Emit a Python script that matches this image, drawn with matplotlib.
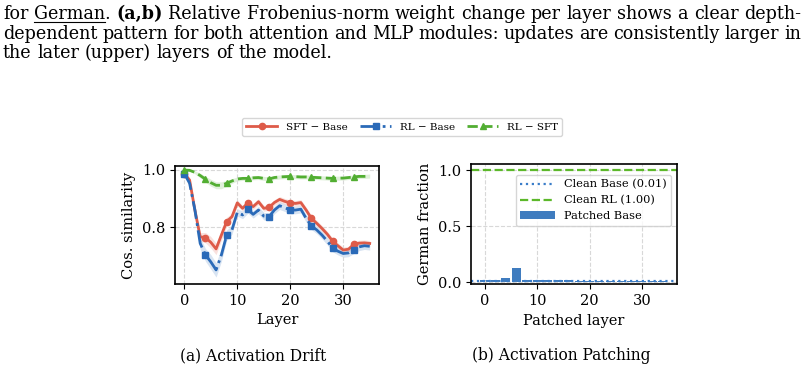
import numpy as np
import matplotlib
matplotlib.use("Agg")
import matplotlib.pyplot as plt

# ---- data ----
layers = np.arange(36)
sft_base = [0.987, 0.964, 0.860, 0.767, 0.764, 0.748, 0.725, 0.773, 0.820, 0.837,
            0.885, 0.866, 0.885, 0.872, 0.889, 0.866, 0.869, 0.886, 0.897, 0.890,
            0.885, 0.883, 0.886, 0.860, 0.831, 0.814, 0.796, 0.776, 0.752, 0.736,
            0.721, 0.724, 0.741, 0.745, 0.746, 0.744]
rl_base = [0.987, 0.953, 0.860, 0.744, 0.704, 0.680, 0.652, 0.704, 0.773, 0.791,
           0.852, 0.843, 0.862, 0.845, 0.860, 0.839, 0.837, 0.860, 0.875, 0.868,
           0.860, 0.860, 0.863, 0.831, 0.805, 0.791, 0.773, 0.752, 0.728, 0.717,
           0.709, 0.711, 0.722, 0.732, 0.736, 0.734]
rl_sft = [0.999, 0.998, 0.991, 0.980, 0.967, 0.955, 0.946, 0.946, 0.953, 0.961,
          0.968, 0.970, 0.970, 0.972, 0.973, 0.970, 0.968, 0.973, 0.975, 0.976,
          0.977, 0.976, 0.975, 0.975, 0.974, 0.973, 0.972, 0.971, 0.970, 0.971,
          0.971, 0.973, 0.975, 0.977, 0.977, 0.978]
sft_base_sd = [0.005, 0.008, 0.012, 0.015, 0.018, 0.020, 0.020, 0.018, 0.015, 0.012,
               0.010, 0.010, 0.010, 0.010, 0.010, 0.010, 0.010, 0.010, 0.010, 0.010,
               0.010, 0.010, 0.010, 0.010, 0.010, 0.010, 0.010, 0.010, 0.010, 0.010,
               0.010, 0.010, 0.010, 0.010, 0.010, 0.010]
rl_base_sd = [0.005, 0.010, 0.015, 0.020, 0.022, 0.025, 0.025, 0.022, 0.018, 0.015,
              0.013, 0.013, 0.013, 0.013, 0.013, 0.013, 0.013, 0.013, 0.013, 0.013,
              0.013, 0.013, 0.013, 0.013, 0.013, 0.013, 0.013, 0.013, 0.013, 0.013,
              0.013, 0.013, 0.013, 0.013, 0.013, 0.013]
rl_sft_sd = [0.002, 0.003, 0.005, 0.008, 0.010, 0.012, 0.012, 0.012, 0.010, 0.008,
             0.007, 0.007, 0.007, 0.007, 0.007, 0.007, 0.007, 0.007, 0.007, 0.007,
             0.007, 0.007, 0.007, 0.007, 0.007, 0.007, 0.007, 0.007, 0.007, 0.007,
             0.007, 0.007, 0.007, 0.007, 0.007, 0.007]

patched_layers = np.arange(0, 36, 2)
patched_base = [0.020, 0.020, 0.040, 0.130, 0.015, 0.015, 0.015, 0.015, 0.015,
                0.010, 0.009, 0.009, 0.009, 0.009, 0.009, 0.009, 0.009, 0.009]
clean_base = 0.01
clean_rl = 1.00

RED, BLUE, GREEN = "#DE5B49", "#2A6AB8", "#52AE32"
BAR_BLUE = "#3F7CBF"

plt.rcParams["font.family"] = "DejaVu Serif"

fig = plt.figure(figsize=(8.07, 3.74), dpi=100)

# ---- (a) activation drift ----
ax1 = fig.add_axes([0.2169, 0.2406, 0.2527, 0.3155])
series = [(sft_base, sft_base_sd, RED, "-", "o", "SFT − Base"),
          (rl_base, rl_base_sd, BLUE, "-.", "s", "RL − Base"),
          (rl_sft, rl_sft_sd, GREEN, "--", "^", "RL − SFT")]
handles = []
for vals, sd, col, ls, mk, lab in series:
    v = np.array(vals); s = np.array(sd)
    ax1.fill_between(layers, v - s, v + s, color=col, alpha=0.18, lw=0)
    h, = ax1.plot(layers, v, color=col, ls=ls, lw=2, marker=mk, ms=4.5,
                  markevery=4, label=lab)
    handles.append(h)
ax1.set_ylim(0.603, 1.013)
ax1.set_xlim(-1.75, 36.75)
ax1.set_yticks([0.8, 1.0])
ax1.set_xticks([0, 10, 20, 30])
ax1.set_xlabel("Layer", fontsize=10.5)
ax1.set_ylabel("Cos. similarity", fontsize=10.5)
ax1.grid(True, ls="--", color="#d8d8d8", lw=0.8)
ax1.tick_params(labelsize=10.5)
for sp in ax1.spines.values():
    sp.set_linewidth(1.2)

fig.legend(handles=handles, loc="center", bbox_to_anchor=(402 / 807, 1 - 127 / 374),
           ncol=3, fontsize=7.5, frameon=True, handlelength=3, columnspacing=1.2,
           edgecolor="#cccccc")

# ---- (b) activation patching ----
ax2 = fig.add_axes([0.5836, 0.2398, 0.2549, 0.3209])
ax2.axhline(clean_base, color="#3a7dc9", ls=":", lw=1.6, label=f"Clean Base ({clean_base:.2f})")
ax2.axhline(clean_rl, color="#5cb82a", ls="--", lw=1.6, label=f"Clean RL ({clean_rl:.2f})")
ax2.bar(patched_layers, patched_base, width=1.7, color=BAR_BLUE, label="Patched Base")
ax2.set_ylim(-0.02, 1.053)
ax2.set_yticks([0.0, 0.5, 1.0])
ax2.set_xticks([0, 10, 20, 30])
ax2.set_xlabel("Patched layer", fontsize=10.5)
ax2.set_ylabel("German fraction", fontsize=10.5)
ax2.grid(True, ls="--", color="#d8d8d8", lw=0.8)
ax2.tick_params(labelsize=10.5)
for sp in ax2.spines.values():
    sp.set_linewidth(1.2)
ax2.legend(loc="upper right", bbox_to_anchor=(1.0, 0.96), fontsize=8.2,
           handlelength=3, edgecolor="#cccccc")

# ---- captions ----
fig.text(253 / 807, 1 - 356 / 374, "(a) Activation Drift", ha="center", va="center",
         fontsize=11.2)
fig.text(561 / 807, 1 - 356 / 374, "(b) Activation Patching", ha="center", va="center",
         fontsize=11.2)

# ---- paragraph text at the top ----
renderer = fig.canvas.get_renderer()


def text_width(s, fs, weight="normal"):
    t = fig.text(0, 0, s, fontsize=fs, weight=weight)
    w = t.get_window_extent(renderer).width
    t.remove()
    return w


# pick the size so the last (unjustified) line ends where it does in the reference
PARA_FS = 12.0 * 329 / text_width("the later (upper) layers of the model.", 12.0)
SPACE = text_width("a b", PARA_FS) - text_width("ab", PARA_FS)


def draw_line(tokens, y_px, justify=True, x0=3, x1=801):
    widths = [text_width(w, PARA_FS, "bold" if s == "bold" else "normal")
              for w, s in tokens]
    gap = (x1 - x0 - sum(widths)) / (len(tokens) - 1) if justify else SPACE
    x = x0
    for (word, style), w in zip(tokens, widths):
        fig.text(x / 807, 1 - y_px / 374, word, fontsize=PARA_FS, va="baseline",
                 weight="bold" if style == "bold" else "normal")
        if style == "under":
            wu = text_width(word.rstrip("."), PARA_FS)
            fig.add_artist(plt.Line2D([x / 807, (x + wu) / 807],
                                      [1 - (y_px + 2.5) / 374] * 2,
                                      color="black", lw=0.8))
        x += w + gap


line1 = [("for", ""), ("German.", "under"), ("(a,b)", "bold")] + \
    [(w, "") for w in "Relative Frobenius-norm weight change per layer shows a clear depth-".split()]
line2 = [(w, "") for w in ("dependent pattern for both attention and MLP modules: "
                           "updates are consistently larger in").split()]
line3 = [(w, "") for w in "the later (upper) layers of the model.".split()]

draw_line(line1, 19)
draw_line(line2, 39)
draw_line(line3, 58, justify=False)

fig.savefig("out.png", dpi=100)
